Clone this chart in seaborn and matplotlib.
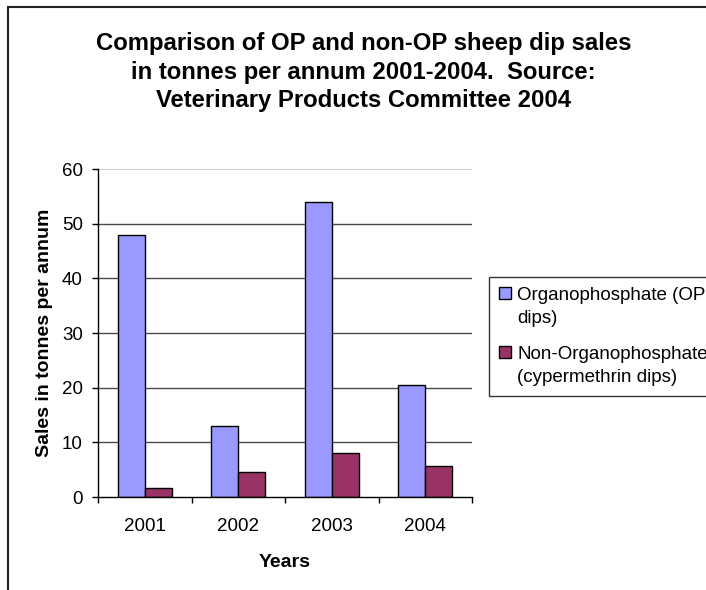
import matplotlib
matplotlib.use("Agg")
import matplotlib.pyplot as plt
import seaborn as sns
import pandas as pd
from matplotlib.patches import Rectangle

years = ["2001", "2002", "2003", "2004"]
op_sales = [48, 13, 54, 20.4]
nonop_sales = [1.7, 4.5, 8.0, 5.6]
series_names = ["Organophosphate (OP\ndips)", "Non-Organophosphate\n(cypermethrin dips)"]
yticks = [0, 10, 20, 30, 40, 50, 60]
title = ("Comparison of OP and non-OP sheep dip sales\n"
         "in tonnes per annum 2001-2004.  Source:\n"
         "Veterinary Products Committee 2004")

df = pd.DataFrame({
    "Year": years * 2,
    "Sales": op_sales + nonop_sales,
    "Series": [series_names[0]] * len(years) + [series_names[1]] * len(years),
})

sns.set_theme(style="white")
plt.rcParams["font.family"] = ["Liberation Sans", "DejaVu Sans"]
plt.rcParams["text.color"] = "black"
plt.rcParams["axes.labelcolor"] = "black"
plt.rcParams["xtick.color"] = "black"
plt.rcParams["ytick.color"] = "black"

FS = 13.5

fig = plt.figure(figsize=(7.06, 5.9), dpi=100)
ax = fig.add_axes([98 / 706, 93 / 590, 374 / 706, 328 / 590])

sns.barplot(data=df, x="Year", y="Sales", hue="Series", order=years,
            hue_order=series_names, palette=["#9999FF", "#993366"],
            width=0.58, gap=0, edgecolor="black", linewidth=1, ax=ax,
            saturation=1, legend=True, zorder=3)

ax.set_ylim(0, 60)
ax.set_xlim(-0.5, 3.5)
ax.set_yticks(yticks)
ax.set_yticklabels([str(t) for t in yticks], fontsize=FS, color="black")
for t in yticks[1:-1]:
    ax.axhline(t, color="#4a4a4a", lw=1, zorder=1)
ax.axhline(60, color="#c0c0c0", lw=1.2, zorder=1)

ax.set_xticks(range(len(years)))
ax.set_xticklabels(years, fontsize=FS, color="black")
ax.set_xticks([-0.5, 0.5, 1.5, 2.5, 3.5], minor=True)
ax.tick_params(axis="x", which="major", length=0, pad=15)
ax.tick_params(axis="x", which="minor", length=4, width=1, color="black", direction="out", bottom=True)
ax.tick_params(axis="y", which="major", length=4, width=1, color="black", direction="out", left=True, pad=7)

for s in ["top", "right"]:
    ax.spines[s].set_visible(False)
for s in ["left", "bottom"]:
    ax.spines[s].set_color("black")
    ax.spines[s].set_linewidth(1)
    ax.spines[s].set_zorder(4)

ax.set_xlabel("Years", fontsize=14, fontweight="bold", labelpad=14)
ax.set_ylabel("Sales in tonnes per annum", fontsize=14, fontweight="bold", labelpad=6)

fig.text(363.5 / 706, 1 - 72 / 590, title, color="black",
         ha="center", va="center", fontsize=17.2, fontweight="bold", linespacing=1.3)

leg = ax.legend(loc="upper left", bbox_to_anchor=(489 / 706, 1 - 277 / 590),
                bbox_transform=fig.transFigure, fontsize=FS, frameon=True,
                fancybox=False, edgecolor="black", handlelength=0.6,
                handleheight=0.6, handletextpad=0.35, borderpad=0.55,
                labelspacing=1.05, borderaxespad=0)
leg.get_frame().set_linewidth(1)
for t in leg.get_texts():
    t.set_linespacing(1.42)
for col in leg._legend_handle_box.get_children():
    for item in col.get_children():
        item.align = "top"

fig.patches.append(Rectangle((8 / 706, -0.5), 2.0, 1 - 7 / 590 + 0.5,
                             transform=fig.transFigure, fill=False,
                             edgecolor="#222222", lw=1.5, zorder=0))

fig.savefig("out.png", dpi=100)
